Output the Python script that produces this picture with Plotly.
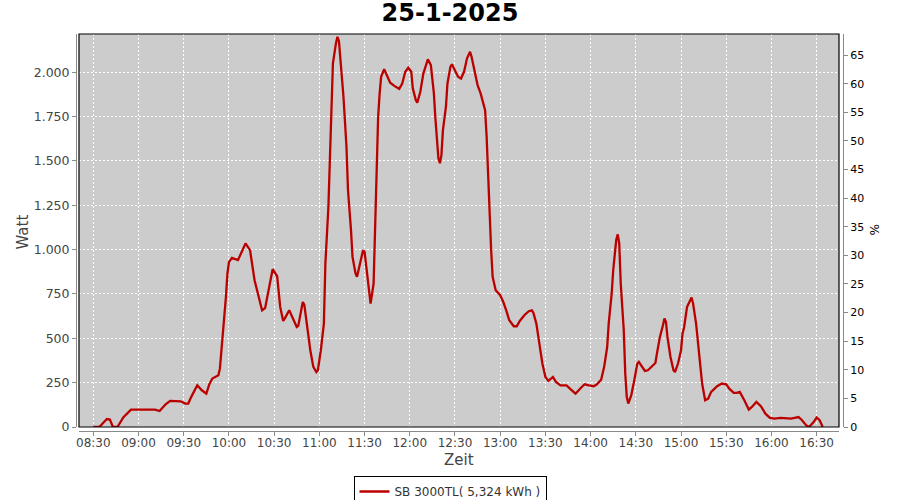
import pandas as pd
import plotly.graph_objects as go

DATE = "2025-01-25"
TITLE = "25-1-2025"
SERIES_NAME = "SB 3000TL( 5,324 kWh )"

times = [
    "08:30", "08:34", "08:39", "08:41", "08:43", "08:46", "08:50", "08:55", "09:11", "09:14",
    "09:18", "09:21", "09:28", "09:31", "09:33", "09:35", "09:39", "09:42", "09:45", "09:47",
    "09:49", "09:53", "09:54", "09:55", "09:57", "09:58", "09:59", "10:00", "10:02", "10:06",
    "10:11", "10:14", "10:17", "10:22", "10:24", "10:27", "10:29", "10:32", "10:34", "10:36",
    "10:37", "10:40", "10:43", "10:45", "10:46", "10:48", "10:49", "10:50", "10:52", "10:54",
    "10:56", "10:58", "10:59", "11:01", "11:03", "11:04", "11:06", "11:07", "11:08", "11:09",
    "11:11", "11:12", "11:13", "11:14", "11:16", "11:18", "11:19", "11:21", "11:22", "11:24",
    "11:25", "11:27", "11:29", "11:30", "11:32", "11:33", "11:34", "11:36", "11:37", "11:38",
    "11:39", "11:40", "11:41", "11:43", "11:45", "11:47", "11:50", "11:53", "11:55", "11:57",
    "11:59", "12:01", "12:02", "12:04", "12:05", "12:07", "12:09", "12:11", "12:12", "12:14",
    "12:16", "12:17", "12:18", "12:19", "12:20", "12:21", "12:22", "12:24", "12:25", "12:27",
    "12:28", "12:30", "12:32", "12:34", "12:36", "12:38", "12:40", "12:41", "12:43", "12:45",
    "12:47", "12:48", "12:50", "12:51", "12:52", "12:53", "12:54", "12:55", "12:57", "13:00",
    "13:02", "13:04", "13:06", "13:09", "13:11", "13:13", "13:16", "13:19", "13:21", "13:22",
    "13:24", "13:26", "13:28", "13:30", "13:32", "13:35", "13:37", "13:40", "13:44", "13:47",
    "13:50", "13:53", "13:56", "13:59", "14:02", "14:04", "14:07", "14:09", "14:11", "14:12",
    "14:14", "14:15", "14:16", "14:17", "14:18", "14:19", "14:20", "14:22", "14:23", "14:24",
    "14:25", "14:27", "14:29", "14:31", "14:32", "14:34", "14:36", "14:38", "14:40", "14:43",
    "14:44", "14:46", "14:48", "14:49", "14:50", "14:51", "14:53", "14:55", "14:56", "14:58",
    "15:00", "15:01", "15:02", "15:04", "15:07", "15:08", "15:10", "15:12", "15:14", "15:16",
    "15:18", "15:20", "15:24", "15:27", "15:30", "15:32", "15:35", "15:37", "15:39", "15:42",
    "15:45", "15:47", "15:50", "15:53", "15:56", "15:59", "16:02", "16:06", "16:10", "16:13",
    "16:18", "16:20", "16:23", "16:25", "16:28", "16:30", "16:32", "16:34",
]

watt = [
    0, 0, 45, 42, 0, 0, 55, 98, 98, 90,
    128, 147, 145, 132, 132, 170, 235, 207, 188, 241,
    273, 292, 329, 433, 602, 734, 865, 930, 954, 941,
    1035, 997, 828, 658, 670, 809, 890, 850, 677, 598,
    611, 658, 602, 564, 570, 658, 705, 690, 564, 433,
    339, 310, 320, 433, 583, 922, 1241, 1505, 1749, 2051,
    2163, 2200, 2175, 2069, 1862, 1580, 1336, 1110, 959, 866,
    847, 922, 997, 988, 847, 753, 696, 809, 1148, 1449,
    1749, 1880, 1975, 2017, 1975, 1941, 1922, 1907, 1937, 2003,
    2026, 2003, 1910, 1844, 1828, 1890, 1993, 2056, 2073, 2041,
    1881, 1740, 1618, 1515, 1487, 1533, 1674, 1806, 1937, 2032,
    2045, 2013, 1975, 1965, 2003, 2079, 2116, 2088, 2003, 1928,
    1881, 1844, 1787, 1637, 1392, 1185, 997, 846, 771, 743,
    706, 658, 602, 568, 568, 598, 630, 653, 658, 645,
    583, 470, 358, 282, 260, 282, 254, 235, 235, 211,
    188, 216, 241, 235, 230, 239, 267, 339, 451, 583,
    753, 884, 978, 1054, 1086, 1035, 809, 546, 301, 169,
    132, 180, 264, 358, 367, 339, 316, 320, 335, 361,
    414, 508, 574, 612, 593, 508, 395, 320, 310, 358,
    433, 527, 560, 677, 730, 696, 583, 395, 245, 151,
    160, 198, 230, 245, 241, 216, 192, 192, 198, 151,
    98, 113, 141, 117, 75, 51, 47, 51, 47, 47,
    56, 41, 10, 0, 28, 53, 38, 0,
]

watt_ticks = [0, 250, 500, 750, 1000, 1250, 1500, 1750, 2000]
pct_ticks = [0, 5, 10, 15, 20, 25, 30, 35, 40, 45, 50, 55, 60, 65]

x = pd.to_datetime([f"{DATE} {t}" for t in times])

W, H = 900, 500
ML, MR, MT, MB = 76, 57, 34, 69
PW = W - ML - MR
PH = H - MT - MB
xd0 = 3 / PW
xd1 = (PW - 4) / PW
yd0 = 4 / PH

LINE_COLOR = "#bb0000"
AXIS_GRAY = "#8a8a8a"

fig = go.Figure()
fig.add_trace(go.Scatter(
    x=x, y=watt, mode="lines", name=SERIES_NAME,
    line=dict(color=LINE_COLOR, width=2.3),
))
fig.add_trace(go.Scatter(
    x=[x[0]], y=[0], yaxis="y2", mode="markers",
    marker=dict(opacity=0), showlegend=False, hoverinfo="skip",
))

fig.update_layout(
    width=W, height=H,
    margin=dict(l=ML, r=MR, t=MT, b=MB, autoexpand=False),
    paper_bgcolor="white",
    plot_bgcolor="#cccccc",
    separators=",.",
    font=dict(family="DejaVu Sans", size=12, color="#444444"),
    title=dict(text=f"<b>{TITLE}</b>", x=0.5, xanchor="center",
               y=1 - 13 / H, yanchor="middle", yref="container",
               font=dict(size=24, color="black", family="DejaVu Sans")),
    xaxis=dict(
        domain=[xd0, xd1], anchor="free", position=0,
        type="date", automargin=False,
        range=[f"{DATE} 08:20:30", f"{DATE} 16:44:50"],
        tick0=f"{DATE} 08:30", dtick=30 * 60 * 1000,
        tickformat="%H:%M",
        showgrid=True, gridcolor="white", griddash="2px,2px", gridwidth=1,
        showline=True, linecolor=AXIS_GRAY, linewidth=1,
        ticks="outside", ticklen=4, tickcolor=AXIS_GRAY,
        ticklabelstandoff=-3,
        tickfont=dict(size=12, color="#444444"),
        zeroline=False,
    ),
    yaxis=dict(
        domain=[yd0, 1], anchor="free", position=0, automargin=False,
        range=[0, 2216],
        tickvals=watt_ticks, tickformat=",d",
        showgrid=True, gridcolor="white", griddash="2px,2px", gridwidth=1,
        showline=True, linecolor=AXIS_GRAY, linewidth=1,
        ticks="outside", ticklen=4, tickcolor=AXIS_GRAY,
        tickfont=dict(size=12.5, color="#444444"),
        zeroline=False,
    ),
    yaxis2=dict(
        overlaying="y", side="right", anchor="free", position=1, automargin=False,
        range=[0, 68.7], tickvals=pct_ticks,
        showgrid=False, zeroline=False,
        showline=True, linecolor=AXIS_GRAY, linewidth=1,
        ticks="outside", ticklen=4, tickcolor=AXIS_GRAY,
        tickfont=dict(size=11, color="black"),
    ),
    showlegend=True,
    legend=dict(
        orientation="h", x=0.5, xanchor="center", xref="container",
        y=1 - 476 / H, yanchor="top", yref="container",
        bgcolor="white", bordercolor="black", borderwidth=1,
        font=dict(size=12, color="#333333"),
        itemwidth=30, tracegroupgap=0,
    ),
)

# Black border around plot area
fig.add_shape(type="rect", xref="x domain", yref="y domain",
              x0=0, x1=1, y0=0, y1=1,
              line=dict(color="black", width=1.2), fillcolor="rgba(0,0,0,0)",
              layer="above")

# Axis titles
fig.add_annotation(text="Watt", xref="paper", yref="paper",
                   x=(22 - ML) / PW, y=0.5, textangle=-90, showarrow=False,
                   xanchor="center", yanchor="middle",
                   font=dict(size=15, color="#444444"))
fig.add_annotation(text="Zeit", xref="paper", yref="paper",
                   x=(459 - ML) / PW, y=(H - MB - 460) / PH, showarrow=False,
                   xanchor="center", yanchor="middle",
                   font=dict(size=15, color="#444444"))
fig.add_annotation(text="%", xref="paper", yref="paper",
                   x=(874 - ML) / PW, y=(H - MB - 229) / PH, textangle=90,
                   showarrow=False, xanchor="center", yanchor="middle",
                   font=dict(size=12, color="black"))

fig.write_html(
    "out.html",
    config={"displayModeBar": False},
    post_script="document.body.style.margin='0';document.body.style.overflow='hidden';",
)
